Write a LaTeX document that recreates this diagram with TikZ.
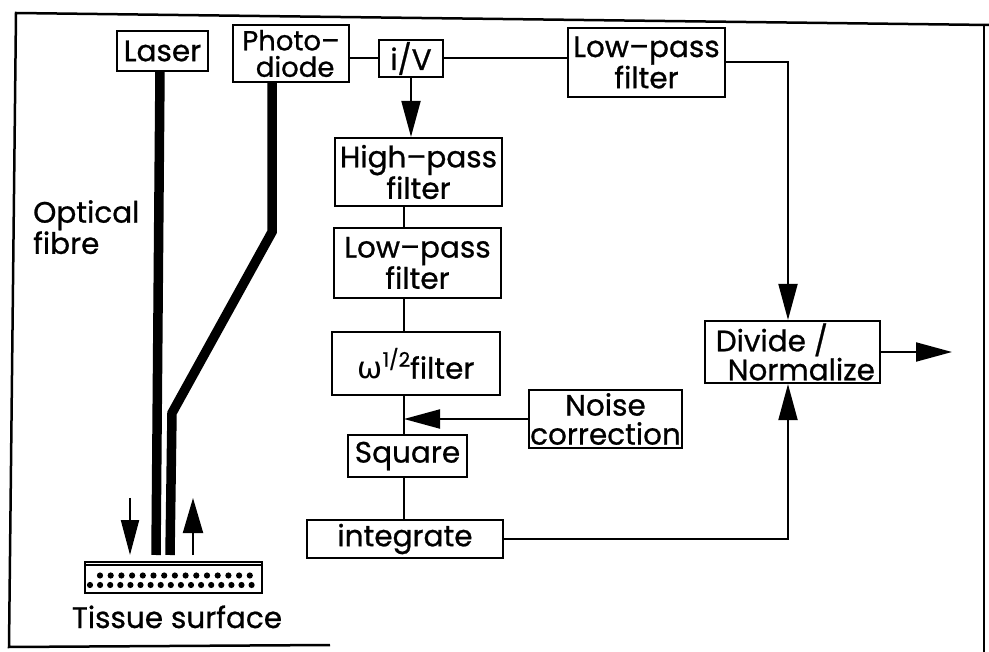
\documentclass[tikz,border=0pt]{standalone}
\usepackage{fontspec}
\setmainfont{Poppins}[UprightFeatures={FakeBold=0.8}]
\newfontfamily\greekfont{DejaVu Sans}
\usetikzlibrary{arrows.meta,calc}
\newcommand{\bigfs}{\fontsize{29.5}{29}\selectfont}
\newcommand{\tightfs}{\fontsize{27.5}{26.5}\selectfont}
\begin{document}
\begin{tikzpicture}[x=1pt,y=-1pt,
  box/.style={draw, line width=2.2pt, inner sep=0pt, align=center, font=\bigfs},
  wire/.style={line width=2pt},
  arr/.style={line width=2pt, -{Triangle[length=36pt,width=19pt]}},
  fibre/.style={line width=9.5pt, line join=miter},
  lbl/.style={inner sep=0pt, font=\bigfs, align=left}]
\useasboundingbox (0,0) rectangle (989,652);
% frame
\draw[line width=2.5pt] (330,645) -- (9,647) -- (16,13) -- (989,25);
\draw[line width=2.5pt] (984,24) -- (984,652);
% boxes
\node[box, minimum width=91pt, minimum height=40pt] (laser) at (162.5,51) {Laser};
\node[box, font=\tightfs, minimum width=116pt, minimum height=57pt] (photo) at (291,53.5) {Photo–\\\hspace*{0.3em}diode};
\node[box, minimum width=64pt, minimum height=37pt] (iv) at (411,58.5) {i/V};
\node[box, minimum width=157pt, minimum height=69pt] (lp1) at (646.5,62.5) {Low–pass\\filter};
\node[box, minimum width=167pt, minimum height=68pt] (hp) at (418.5,172) {High–pass\\filter};
\node[box, minimum width=167pt, minimum height=70pt] (lp2) at (417.5,263) {Low–pass\\filter};
\node[box, minimum width=168pt, minimum height=63pt] (om) at (416,363.5) {{\greekfont\fontsize{30}{32}\selectfont ω}\raisebox{12pt}{\fontsize{20}{20}\selectfont 1/2}filter};
\node[box, minimum width=153pt, minimum height=58pt] (noise) at (605.5,419) {Noise\\correction};
\node[box, minimum width=119pt, minimum height=42pt] (sq) at (407.5,456) {Square};
\node[box, minimum width=196pt, minimum height=38pt] (integ) at (405,539) {integrate};
\node[box, minimum width=175pt, minimum height=62pt] (div) at (792.5,352) {Divide /\hspace*{1.4em}\\\hspace*{0.6em}Normalize};
% connectors
\coordinate (dx) at (788,0);
\coordinate (sp) at (404,0);
\coordinate (out) at (952,352);
\draw[wire] (photo.east |- iv.west) -- (iv.west);
\draw[wire] (iv.east) -- (iv.east -| lp1.west);
\draw[arr] (lp1.east) -- (lp1.east -| dx) -- (dx |- div.north);
\draw[arr] (iv.south) -- (iv.south |- hp.north);
\draw[wire] (hp.south -| sp) -- (lp2.north -| sp);
\draw[wire] (lp2.south -| sp) -- (om.north -| sp);
\draw[wire] (om.south -| sp) -- (sq.north -| sp);
\draw[arr] (noise.west) -- (noise.west -| sp);
\draw[wire] (sq.south -| sp) -- (integ.north -| sp);
\draw[arr] (integ.east) -- (integ.east -| dx) -- (dx |- div.south);
\draw[arr] (div.east) -- (out);
% fibres
\coordinate (lft) at (160,71);
\coordinate (lfb) at (156,555);
\coordinate (pf1) at (272,232);
\coordinate (pf2) at (172,413);
\coordinate (pfb) at (170,555);
\draw[fibre] (lft) -- (lfb);
\draw[fibre] (photo.south -| pf1) -- (pf1) -- (pf2) -- (pfb);
% tissue
\node[draw, line width=2pt, minimum width=177pt, minimum height=31pt, inner sep=0pt] (tissue) at (173.5,577.5) {};
\draw[line width=1.5pt] ([yshift=-4pt]tissue.north west) -- ([yshift=-4pt]tissue.north east);
\foreach \i in {0,...,14} \fill (100+\i*10.7,575.5) circle (3.1pt);
\foreach \i in {0,...,16} \fill (90+\i*10.1,585) circle (3.1pt);
\coordinate (da0) at (130,498);
\coordinate (da1) at (130,555);
\coordinate (ua0) at (193,555);
\coordinate (ua1) at (193,498);
\draw[line width=2pt, -{Triangle[length=35pt,width=18pt]}] (da0) -- (da1);
\draw[line width=2pt, -{Triangle[length=35pt,width=20pt]}] (ua0) -- (ua1);
% labels
\node[lbl, anchor=north west] (opt) at (33,200) {Optical\\fibre};
\node[lbl, anchor=base] (tis) at (177,628) {Tissue surface};
\end{tikzpicture}
\end{document}
